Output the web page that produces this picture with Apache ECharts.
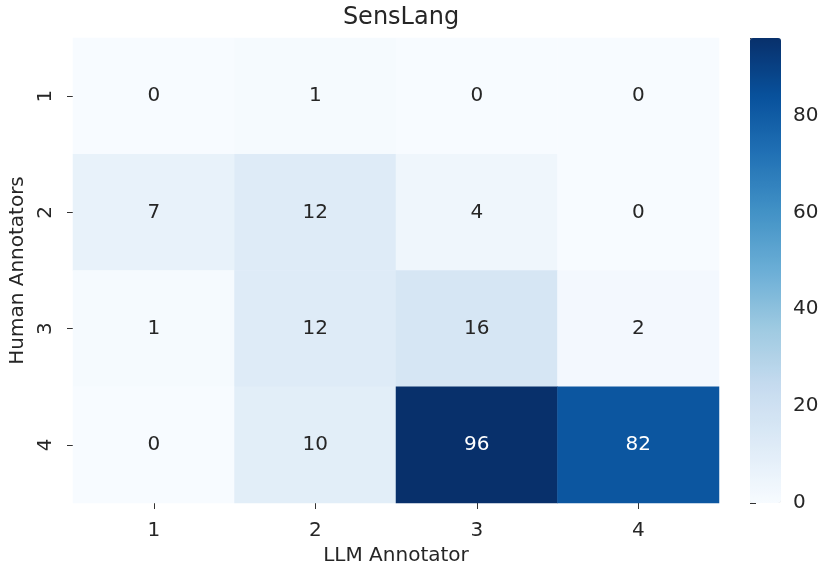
<!DOCTYPE html>
<html>
<head>
<meta charset="utf-8">
<script src="https://cdn.jsdelivr.net/npm/echarts@6/dist/echarts.min.js"></script>
<style>
  html, body { margin: 0; padding: 0; background: #fff; }
  #chart { width: 828px; height: 573px; }
</style>
</head>
<body>
<div id="chart"></div>
<script>
// Confusion matrix: rows = human annotators, columns = LLM annotator
const llmLabels = ['1', '2', '3', '4'];
const humanLabels = ['1', '2', '3', '4'];
const row1 = [0, 1, 0, 0];
const row2 = [7, 12, 4, 0];
const row3 = [1, 12, 16, 2];
const row4 = [0, 10, 96, 82];
const counts = [row1, row2, row3, row4];
const colorbarTicks = [0, 20, 40, 60, 80];

// matplotlib "Blues" colormap stops
const blues = ['#f7fbff', '#deebf7', '#c6dbef', '#9ecae1', '#6baed6',
               '#4292c6', '#2171b5', '#08519c', '#08306b'];
const vmin = 0;
const vmax = Math.max(...counts.flat());

const FONT = 'DejaVu Sans';
const BASE = 20;
const TEXT = '#262626';

const cells = [];
counts.forEach((row, yi) => {
  row.forEach((v, xi) => {
    cells.push({
      value: [xi, yi, v],
      label: { color: v > vmax * 0.55 ? '#ffffff' : TEXT }
    });
  });
});

const chart = echarts.init(document.getElementById('chart'), null, { renderer: 'canvas' });
chart.setOption({
  animation: false,
  backgroundColor: '#ffffff',
  textStyle: { fontFamily: FONT },
  title: {
    text: 'SensLang',
    left: 396, top: 1, textAlign: 'center',
    textStyle: { fontFamily: FONT, fontSize: 24, fontWeight: 'normal', color: TEXT }
  },
  grid: [
    { left: 73, right: 109, top: 38, bottom: 70 },
    { left: 750, width: 31, top: 38, height: 465 }
  ],
  xAxis: [
    {
      type: 'category', data: llmLabels, gridIndex: 0,
      name: 'LLM Annotator', nameLocation: 'middle', nameGap: 40,
      nameTextStyle: { fontFamily: FONT, fontSize: BASE, color: TEXT },
      axisLine: { show: false },
      axisTick: { show: true, alignWithLabel: true, length: 6, lineStyle: { color: '#333' } },
      axisLabel: { fontFamily: FONT, fontSize: BASE, color: TEXT, margin: 18 },
      splitArea: { show: false }, splitLine: { show: false }
    },
    {
      type: 'value', gridIndex: 1, show: false, min: 0, max: 1
    }
  ],
  yAxis: [
    {
      type: 'category', data: humanLabels, gridIndex: 0, inverse: true,
      name: 'Human Annotators', nameLocation: 'middle', nameGap: 44,
      nameTextStyle: { fontFamily: FONT, fontSize: BASE, color: TEXT },
      axisLine: { show: false },
      axisTick: { show: true, alignWithLabel: true, length: 6, lineStyle: { color: '#333' } },
      axisLabel: { fontFamily: FONT, fontSize: BASE, color: TEXT, rotate: 90, margin: 17 },
      splitArea: { show: false }, splitLine: { show: false }
    },
    {
      type: 'value', gridIndex: 1, position: 'right',
      min: vmin, max: vmax, interval: 20,
      axisLine: { show: false },
      splitLine: { show: false },
      axisTick: { show: true, length: 6, lineStyle: { color: '#333' } },
      axisLabel: {
        fontFamily: FONT, fontSize: BASE, color: TEXT, margin: 12,
        formatter: v => (colorbarTicks.includes(v) ? String(v) : '')
      }
    }
  ],
  visualMap: {
    type: 'continuous',
    min: vmin, max: vmax,
    orient: 'vertical',
    left: 750, top: 38,
    itemWidth: 31, itemHeight: 465,
    padding: 0,
    calculable: false,
    hoverLink: false,
    seriesIndex: 0,
    inRange: { color: blues },
    textStyle: { color: 'transparent' },
    text: null
  },
  series: [
    {
      type: 'heatmap',
      xAxisIndex: 0, yAxisIndex: 0,
      data: cells,
      label: { show: true, fontFamily: FONT, fontSize: BASE },
      itemStyle: { borderWidth: 0 },
      emphasis: { disabled: true }
    },
    {
      type: 'line', xAxisIndex: 1, yAxisIndex: 1, data: [], silent: true
    }
  ]
});
</script>
</body>
</html>
